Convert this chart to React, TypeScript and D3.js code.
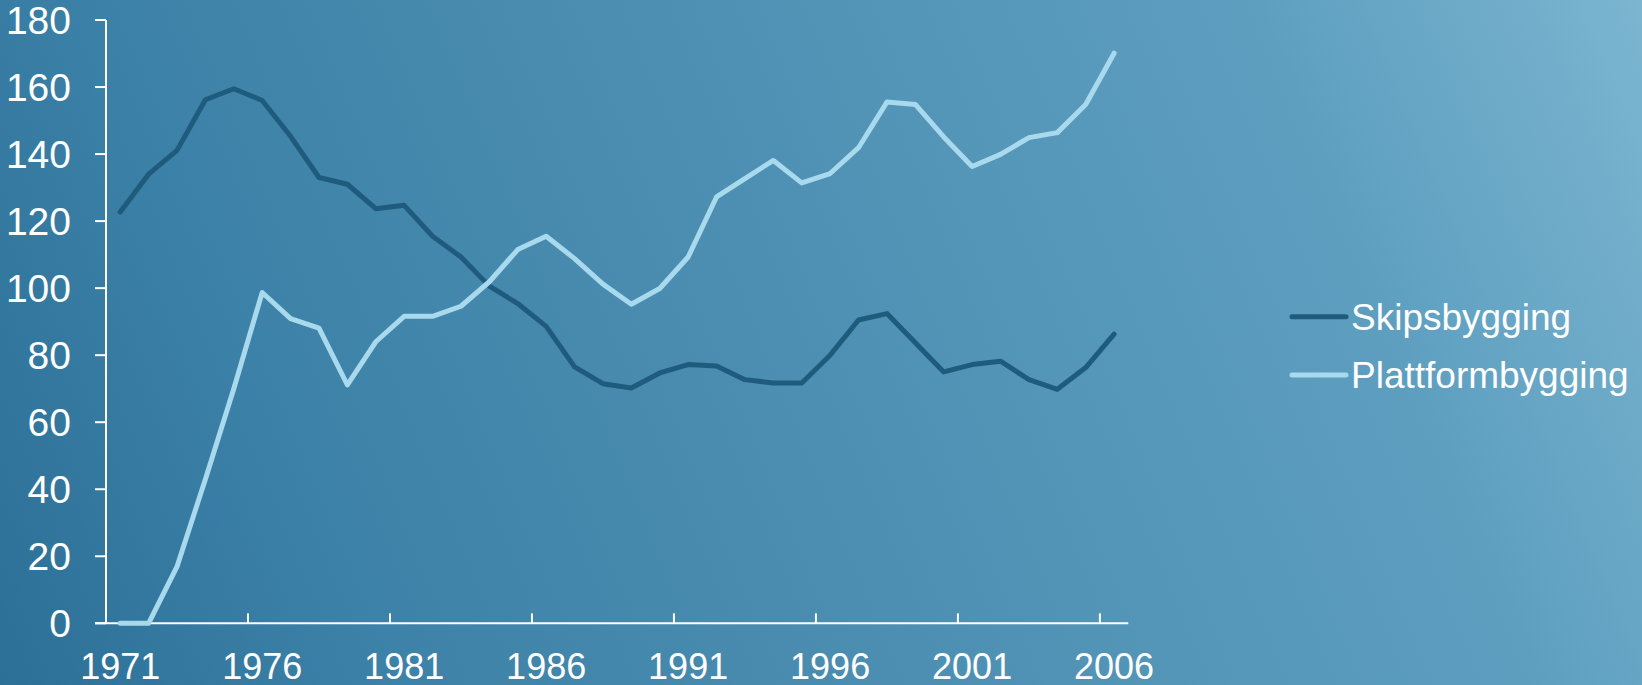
import React, { useEffect } from "react";
import * as d3 from "d3";

const categories = [
  "1971","1972","1973","1974","1975","1976","1977","1978","1979","1980",
  "1981","1982","1983","1984","1985","1986","1987","1988","1989","1990",
  "1991","1992","1993","1994","1995","1996","1997","1998","1999","2000",
  "2001","2002","2003","2004","2005","2006",
];

const skipsbygging = [
  122.7, 134, 141.1, 156.2, 159.5, 156, 145.3, 133, 131, 123.7,
  124.7, 115.5, 109.3, 100.6, 95.4, 88.6, 76.5, 71.5, 70.2, 74.7,
  77.2, 76.8, 72.7, 71.7, 71.7, 80, 90.5, 92.4, 83.7, 75,
  77.2, 78.2, 72.7, 69.8, 76.3, 86.3,
];

const plattformbygging = [
  0, 0, 16.9, 43, 70, 98.7, 90.9, 88.1, 71.1, 84,
  91.6, 91.6, 94.6, 101.9, 111.5, 115.5, 108.8, 101.2, 95.2, 99.9,
  109.3, 127.2, 132.7, 138.1, 131.4, 134.2, 141.9, 155.5, 154.8, 145.1,
  136.3, 139.9, 144.9, 146.4, 154.8, 170.1,
];

const yTicks = [0, 20, 40, 60, 80, 100, 120, 140, 160, 180];
const xLabelEvery = 5;

const seriesNames = ["Skipsbygging", "Plattformbygging"];
const seriesColors = ["#1f5b7d", "#a9d9ed"];

const W = 1642;
const H = 685;

export default function App() {
  useEffect(() => {
    document.body.style.margin = "0";
  }, []);

  const x = d3.scaleBand<string>().domain(categories).range([106, 1128.3]).padding(0);
  const y = d3.scaleLinear().domain([0, 180]).range([623.3, 20]);
  const bw = x.bandwidth();
  const cx = (c: string) => (x(c) as number) + bw / 2;

  const line = d3
    .line<number>()
    .x((_, i) => cx(categories[i]))
    .y((d) => y(d));

  const allSeries = [skipsbygging, plattformbygging];
  const font = "'Liberation Sans', Arial, sans-serif";

  return (
    <svg width={W} height={H} style={{ display: "block", position: "absolute", left: 0, top: 0 }}>
      <defs>
        <linearGradient id="bg" gradientUnits="userSpaceOnUse" x1={0} y1={H} x2={W} y2={0}>
          <stop offset="0" stopColor="#2c7097" />
          <stop offset="0.2" stopColor="#3c81a7" />
          <stop offset="0.5" stopColor="#4e90b3" />
          <stop offset="0.8" stopColor="#5e9fc0" />
          <stop offset="1" stopColor="#7bb5d0" />
        </linearGradient>
      </defs>
      <rect x={0} y={0} width={W} height={H} fill="url(#bg)" />

      {/* y axis */}
      <line x1={106} x2={106} y1={y(180)} y2={y(0)} stroke="#fff" strokeWidth={2} />
      {yTicks.map((t) => (
        <g key={t}>
          <line x1={95} x2={106} y1={y(t)} y2={y(t)} stroke="#fff" strokeWidth={2} />
          <text
            x={71}
            y={y(t)}
            textAnchor="end"
            dominantBaseline="central"
            fill="#fff"
            fontFamily={font}
            fontSize={39}
          >
            {t}
          </text>
        </g>
      ))}

      {/* x axis */}
      <line x1={95} x2={1128.3} y1={y(0)} y2={y(0)} stroke="#fff" strokeWidth={2} />
      {categories.map((c, i) =>
        i % xLabelEvery === 0 ? (
          <g key={c}>
            {i > 0 && (
              <line
                x1={x(c) as number}
                x2={x(c) as number}
                y1={y(0)}
                y2={y(0) - 10}
                stroke="#fff"
                strokeWidth={2}
              />
            )}
            <text
              x={cx(c)}
              y={679}
              textAnchor="middle"
              fill="#fff"
              fontFamily={font}
              fontSize={36}
            >
              {c}
            </text>
          </g>
        ) : null
      )}

      {/* lines */}
      {allSeries.map((s, k) => (
        <path
          key={k}
          d={line(s) || ""}
          fill="none"
          stroke={seriesColors[k]}
          strokeWidth={5}
          strokeLinejoin="round"
          strokeLinecap="round"
        />
      ))}

      {/* legend */}
      {seriesNames.map((n, k) => {
        const ly = k === 0 ? 316.7 : 375;
        return (
          <g key={n}>
            <line
              x1={1292}
              x2={1346}
              y1={ly}
              y2={ly}
              stroke={seriesColors[k]}
              strokeWidth={5}
              strokeLinecap="round"
            />
            <text
              x={1351}
              y={ly + 13}
              fill="#fff"
              fontFamily={font}
              fontSize={37}
            >
              {n}
            </text>
          </g>
        );
      })}
    </svg>
  );
}
